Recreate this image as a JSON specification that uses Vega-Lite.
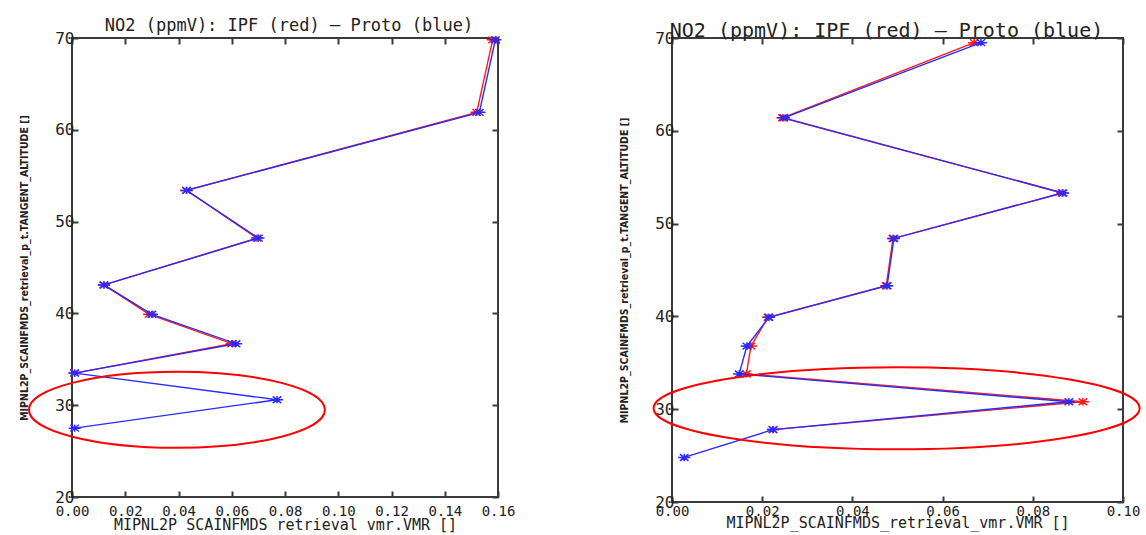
{
  "$schema": "https://vega.github.io/schema/vega-lite/v6.json",
  "background": "white",
  "padding": {"left": 18, "top": 16, "right": 0, "bottom": 0},
  "datasets": {
    "profiles": [
      {"p": "L", "s": "IPF", "alt": 69.8, "vmr": 0.158},
      {"p": "L", "s": "IPF", "alt": 61.9, "vmr": 0.152},
      {"p": "L", "s": "IPF", "alt": 53.4, "vmr": 0.043},
      {"p": "L", "s": "IPF", "alt": 48.2, "vmr": 0.0695},
      {"p": "L", "s": "IPF", "alt": 43.1, "vmr": 0.012},
      {"p": "L", "s": "IPF", "alt": 39.9, "vmr": 0.029},
      {"p": "L", "s": "IPF", "alt": 36.7, "vmr": 0.060},
      {"p": "L", "s": "IPF", "alt": 33.5, "vmr": 0.001},
      {"p": "L", "s": "Proto", "alt": 69.8, "vmr": 0.159},
      {"p": "L", "s": "Proto", "alt": 61.9, "vmr": 0.153},
      {"p": "L", "s": "Proto", "alt": 53.4, "vmr": 0.043},
      {"p": "L", "s": "Proto", "alt": 48.2, "vmr": 0.070},
      {"p": "L", "s": "Proto", "alt": 43.1, "vmr": 0.012},
      {"p": "L", "s": "Proto", "alt": 39.9, "vmr": 0.030},
      {"p": "L", "s": "Proto", "alt": 36.7, "vmr": 0.0616},
      {"p": "L", "s": "Proto", "alt": 33.5, "vmr": 0.001},
      {"p": "L", "s": "Proto", "alt": 30.6, "vmr": 0.077},
      {"p": "L", "s": "Proto", "alt": 27.5, "vmr": 0.001},
      {"p": "R", "s": "IPF", "alt": 69.5, "vmr": 0.067},
      {"p": "R", "s": "IPF", "alt": 61.4, "vmr": 0.0245},
      {"p": "R", "s": "IPF", "alt": 53.3, "vmr": 0.0865},
      {"p": "R", "s": "IPF", "alt": 48.4, "vmr": 0.049},
      {"p": "R", "s": "IPF", "alt": 43.3, "vmr": 0.0475},
      {"p": "R", "s": "IPF", "alt": 39.9, "vmr": 0.0213},
      {"p": "R", "s": "IPF", "alt": 36.8, "vmr": 0.0175},
      {"p": "R", "s": "IPF", "alt": 33.8, "vmr": 0.0165},
      {"p": "R", "s": "IPF", "alt": 30.8, "vmr": 0.0911},
      {"p": "R", "s": "IPF", "alt": 27.8, "vmr": 0.0224},
      {"p": "R", "s": "Proto", "alt": 69.5, "vmr": 0.0685},
      {"p": "R", "s": "Proto", "alt": 61.4, "vmr": 0.0248},
      {"p": "R", "s": "Proto", "alt": 53.3, "vmr": 0.0867},
      {"p": "R", "s": "Proto", "alt": 48.4, "vmr": 0.0492},
      {"p": "R", "s": "Proto", "alt": 43.3, "vmr": 0.0477},
      {"p": "R", "s": "Proto", "alt": 39.9, "vmr": 0.0215},
      {"p": "R", "s": "Proto", "alt": 36.8, "vmr": 0.0166},
      {"p": "R", "s": "Proto", "alt": 33.8, "vmr": 0.0149},
      {"p": "R", "s": "Proto", "alt": 30.8, "vmr": 0.088},
      {"p": "R", "s": "Proto", "alt": 27.8, "vmr": 0.0224},
      {"p": "R", "s": "Proto", "alt": 24.8, "vmr": 0.0027}
    ],
    "marks": [
      {"p": "L", "alt": 29.5, "vmr": 0.0394},
      {"p": "R", "alt": 30.1, "vmr": 0.0498}
    ]
  },
  "config": {
    "font": "DejaVu Sans Mono",
    "view": {"stroke": "#3a3a3a", "strokeWidth": 2},
    "axis": {
      "grid": false,
      "domain": false,
      "tickColor": "#3a3a3a",
      "tickWidth": 2,
      "tickSize": -6,
      "labelFont": "DejaVu Sans Mono",
      "labelFontSize": 14,
      "labelColor": "#222",
      "titleColor": "#222",
      "titleFontWeight": "normal"
    },
    "title": {"font": "DejaVu Sans Mono", "fontWeight": "normal", "color": "#222", "anchor": "middle"}
  },
  "spacing": 102,
  "hconcat": [
    {
      "width": 426,
      "height": 459,
      "title": {"text": "NO2 (ppmV): IPF (red) — Proto (blue)", "fontSize": 17, "offset": 2, "dx": 4, "dy": 7},
      "resolve": {"axis": {"x": "independent", "y": "independent"}},
      "layer": [
        {
          "data": {"name": "profiles"},
          "transform": [{"filter": "datum.p === 'L' && datum.s === 'IPF'"}],
          "layer": [
            {"mark": {"type": "line", "color": "#ff1a1a", "strokeWidth": 1.4}},
            {"mark": {"type": "point", "shape": "M-1,0L1,0M-0.7,-0.55L0.7,0.55M-0.7,0.55L0.7,-0.55M0,-0.6L0,0.6", "filled": false, "color": "#ff1a1a", "strokeWidth": 1.5, "size": 150, "opacity": 1}}
          ],
          "encoding": {
            "x": {"field": "vmr", "type": "quantitative", "scale": {"domain": [0, 0.16], "nice": false, "zero": false},
                  "axis": {"orient": "bottom", "values": [0, 0.02, 0.04, 0.06, 0.08, 0.1, 0.12, 0.14, 0.16], "format": ".2f", "labelPadding": 13, "title": "MIPNL2P_SCAINFMDS_retrieval_vmr.VMR []", "titleFontSize": 15, "titlePadding": -1, "labelFlush": false}},
            "y": {"field": "alt", "type": "quantitative", "scale": {"domain": [20, 70], "nice": false, "zero": false},
                  "axis": {"orient": "left", "values": [20, 30, 40, 50, 60, 70], "labelPadding": 4, "labelFontSize": 16, "title": "MIPNL2P_SCAINFMDS_retrieval_p_t.TANGENT_ALTITUDE []", "titleFont": "DejaVu Sans Condensed", "titleFontWeight": "bold", "titleFontSize": 10.5, "titlePadding": 25, "labelFlush": false}},
            "order": {"field": "alt", "type": "quantitative"}
          }
        },
        {
          "data": {"name": "profiles"},
          "transform": [{"filter": "datum.p === 'L' && datum.s === 'Proto'"}],
          "layer": [
            {"mark": {"type": "line", "color": "#2a2aff", "strokeWidth": 1.4}},
            {"mark": {"type": "point", "shape": "M-1,0L1,0M-0.7,-0.55L0.7,0.55M-0.7,0.55L0.7,-0.55M0,-0.6L0,0.6", "filled": false, "color": "#2a2aff", "strokeWidth": 1.5, "size": 150, "opacity": 1}}
          ],
          "encoding": {
            "x": {"field": "vmr", "type": "quantitative", "axis": null},
            "y": {"field": "alt", "type": "quantitative", "axis": null},
            "order": {"field": "alt", "type": "quantitative"}
          }
        },
        {
          "data": {"name": "marks"},
          "transform": [{"filter": "datum.p === 'L'"}],
          "mark": {"type": "point", "shape": "M1,0C1,0.142,0.552,0.257,0,0.257C-0.552,0.257,-1,0.142,-1,0C-1,-0.142,-0.552,-0.257,0,-0.257C0.552,-0.257,1,-0.142,1,0Z", "filled": false, "color": "#ff0000", "strokeWidth": 2, "size": 87616, "opacity": 1},
          "encoding": {
            "x": {"field": "vmr", "type": "quantitative", "axis": {"orient": "top", "values": [0, 0.02, 0.04, 0.06, 0.08, 0.1, 0.12, 0.14, 0.16], "labels": false, "title": null}},
            "y": {"field": "alt", "type": "quantitative", "axis": {"orient": "right", "values": [20, 30, 40, 50, 60, 70], "labels": false, "title": null}}
          }
        }
      ]
    },
    {
      "width": 451,
      "height": 464,
      "title": {"text": "NO2 (ppmV): IPF (red) — Proto (blue)", "fontSize": 20, "offset": 0, "dx": -11, "dy": 11},
      "resolve": {"axis": {"x": "independent", "y": "independent"}},
      "layer": [
        {
          "data": {"name": "profiles"},
          "transform": [{"filter": "datum.p === 'R' && datum.s === 'IPF'"}],
          "layer": [
            {"mark": {"type": "line", "color": "#ff1a1a", "strokeWidth": 1.4}},
            {"mark": {"type": "point", "shape": "M-1,0L1,0M-0.7,-0.55L0.7,0.55M-0.7,0.55L0.7,-0.55M0,-0.6L0,0.6", "filled": false, "color": "#ff1a1a", "strokeWidth": 1.5, "size": 150, "opacity": 1}}
          ],
          "encoding": {
            "x": {"field": "vmr", "type": "quantitative", "scale": {"domain": [0, 0.1], "nice": false, "zero": false},
                  "axis": {"orient": "bottom", "values": [0, 0.02, 0.04, 0.06, 0.08, 0.1], "format": ".2f", "labelPadding": 8, "title": "MIPNL2P_SCAINFMDS_retrieval_vmr.VMR []", "titleFontSize": 15, "titlePadding": -3, "labelFlush": false}},
            "y": {"field": "alt", "type": "quantitative", "scale": {"domain": [20, 70], "nice": false, "zero": false},
                  "axis": {"orient": "left", "values": [20, 30, 40, 50, 60, 70], "labelPadding": 4, "labelFontSize": 16, "title": "MIPNL2P_SCAINFMDS_retrieval_p_t.TANGENT_ALTITUDE []", "titleFont": "DejaVu Sans Condensed", "titleFontWeight": "bold", "titleFontSize": 10.5, "titlePadding": 25, "labelFlush": false}},
            "order": {"field": "alt", "type": "quantitative"}
          }
        },
        {
          "data": {"name": "profiles"},
          "transform": [{"filter": "datum.p === 'R' && datum.s === 'Proto'"}],
          "layer": [
            {"mark": {"type": "line", "color": "#2a2aff", "strokeWidth": 1.4}},
            {"mark": {"type": "point", "shape": "M-1,0L1,0M-0.7,-0.55L0.7,0.55M-0.7,0.55L0.7,-0.55M0,-0.6L0,0.6", "filled": false, "color": "#2a2aff", "strokeWidth": 1.5, "size": 150, "opacity": 1}}
          ],
          "encoding": {
            "x": {"field": "vmr", "type": "quantitative", "axis": null},
            "y": {"field": "alt", "type": "quantitative", "axis": null},
            "order": {"field": "alt", "type": "quantitative"}
          }
        },
        {
          "data": {"name": "marks"},
          "transform": [{"filter": "datum.p === 'R'"}],
          "mark": {"type": "point", "shape": "M1,0C1,0.0933,0.552,0.169,0,0.169C-0.552,0.169,-1,0.0933,-1,0C-1,-0.0933,-0.552,-0.169,0,-0.169C0.552,-0.169,1,-0.0933,1,0Z", "filled": false, "color": "#ff0000", "strokeWidth": 2, "size": 236196, "opacity": 1},
          "encoding": {
            "x": {"field": "vmr", "type": "quantitative", "axis": {"orient": "top", "values": [0, 0.02, 0.04, 0.06, 0.08, 0.1], "labels": false, "title": null}},
            "y": {"field": "alt", "type": "quantitative", "axis": {"orient": "right", "values": [20, 30, 40, 50, 60, 70], "labels": false, "title": null}}
          }
        }
      ]
    }
  ]
}
